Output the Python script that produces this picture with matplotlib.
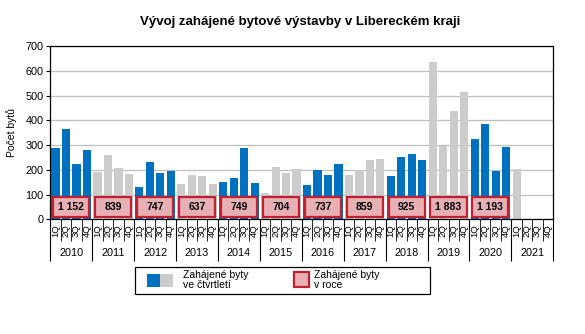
import numpy as np
import matplotlib
matplotlib.use("Agg")
import matplotlib.pyplot as plt
from matplotlib.patches import Rectangle
import matplotlib.transforms as mtransforms

plt.rcParams["font.family"] = ["Liberation Sans", "DejaVu Sans"]

# DATA
years = [2010, 2011, 2012, 2013, 2014, 2015, 2016, 2017, 2018, 2019, 2020, 2021]
quarters = ["1Q", "2Q", "3Q", "4Q"]
quarterly = [
    [289, 365, 223, 280],
    [191, 260, 207, 183],
    [131, 232, 189, 195],
    [141, 178, 175, 143],
    [149, 165, 290, 145],
    [105, 210, 186, 203],
    [138, 198, 178, 223],
    [178, 198, 240, 243],
    [174, 250, 262, 239],
    [635, 298, 436, 514],
    [323, 384, 194, 292],
    [203, None, None, None],
]
annual = [1152, 839, 747, 637, 749, 704, 737, 859, 925, 1883, 1193, None]
annual_labels = ["1 152", "839", "747", "637", "749", "704", "737", "859", "925", "1 883", "1 193", ""]

BLUE = "#0070C0"
GRAY = "#CCCCCC"
BOX_FACE = "#E6B0B5"
BOX_EDGE = "#C0202F"

W, H = 585, 334
fig = plt.figure(figsize=(W / 100, H / 100), dpi=100)
ax = fig.add_axes([50.3 / W, (H - 219.3) / H, 503 / W, 173.3 / H])

# BARS
for yi, yr in enumerate(years):
    color = BLUE if yi % 2 == 0 else GRAY
    for qi, v in enumerate(quarterly[yi]):
        if v is None:
            continue
        ax.bar(yi * 4 + qi, v, width=0.78, color=color, zorder=2)

# ANNUAL BOXES
for yi, tot in enumerate(annual):
    if tot is None:
        continue
    cx = yi * 4 + 1.5
    ax.add_patch(Rectangle((cx - 1.72, 8), 3.44, 81, facecolor=BOX_FACE,
                           edgecolor=BOX_EDGE, linewidth=1.6, zorder=3))
    ax.text(cx, 48.5, annual_labels[yi], ha="center", va="center",
            fontsize=7.5, fontweight="bold", zorder=4)

n = len(years) * 4
ax.set_xlim(-0.5, n - 0.5)
ax.set_ylim(0, 700)
ax.set_yticks(range(0, 701, 100))
ax.tick_params(axis="y", labelsize=7.8, length=3, width=0.8, pad=2)
ax.grid(axis="y", color="#BFBFBF", linewidth=0.9, zorder=0)
ax.set_axisbelow(True)
for s in ax.spines.values():
    s.set_linewidth(0.9)
ax.set_ylabel("Počet bytů", fontsize=7.5, labelpad=6)

# X AXIS: quarter separators and year separators
ax.set_xticks(np.arange(-0.5, n, 4))
ax.set_xticks(np.arange(-0.5, n, 1), minor=True)
ax.set_xticklabels([])
ax.tick_params(axis="x", which="major", length=30, width=0.8)
ax.tick_params(axis="x", which="minor", length=16, width=0.6)

trans = mtransforms.blended_transform_factory(ax.transData, ax.transAxes)
for yi, yr in enumerate(years):
    for qi, q in enumerate(quarters):
        ax.text(yi * 4 + qi, -0.065, q, transform=trans, rotation=90,
                ha="center", va="center", fontsize=6.8)
    ax.text(yi * 4 + 1.5, -0.195, str(yr), transform=trans,
            ha="center", va="center", fontsize=7.8)

fig.suptitle("Vývoj zahájené bytové výstavby v Libereckém kraji",
             x=(50.3 + 553.3) / 2 / W - 0.003, y=1 - 22 / H, va="center",
             fontsize=9.5, fontweight="bold")

# LEGEND (drawn in pixel coordinates)
lg = fig.add_axes([0, 0, 1, 1], zorder=-1)
lg.set_xlim(0, W)
lg.set_ylim(H, 0)
lg.axis("off")
lg.add_patch(Rectangle((135, 267), 295, 27, facecolor="white",
                       edgecolor="black", linewidth=0.9))
lg.add_patch(Rectangle((147, 274), 13, 13, facecolor=BLUE, edgecolor="none"))
lg.add_patch(Rectangle((160, 274), 13, 13, facecolor=GRAY, edgecolor="none"))
lg.text(183, 280.5, "Zahájené byty\nve čtvrtletí", ha="left", va="center",
        fontsize=7.5, linespacing=1.0)
lg.add_patch(Rectangle((294, 272), 15, 15, facecolor=BOX_FACE,
                       edgecolor=BOX_EDGE, linewidth=1.6))
lg.text(314, 280.5, "Zahájené byty\nv roce", ha="left", va="center",
        fontsize=7.5, linespacing=1.0)

fig.savefig("out.png", dpi=100)
